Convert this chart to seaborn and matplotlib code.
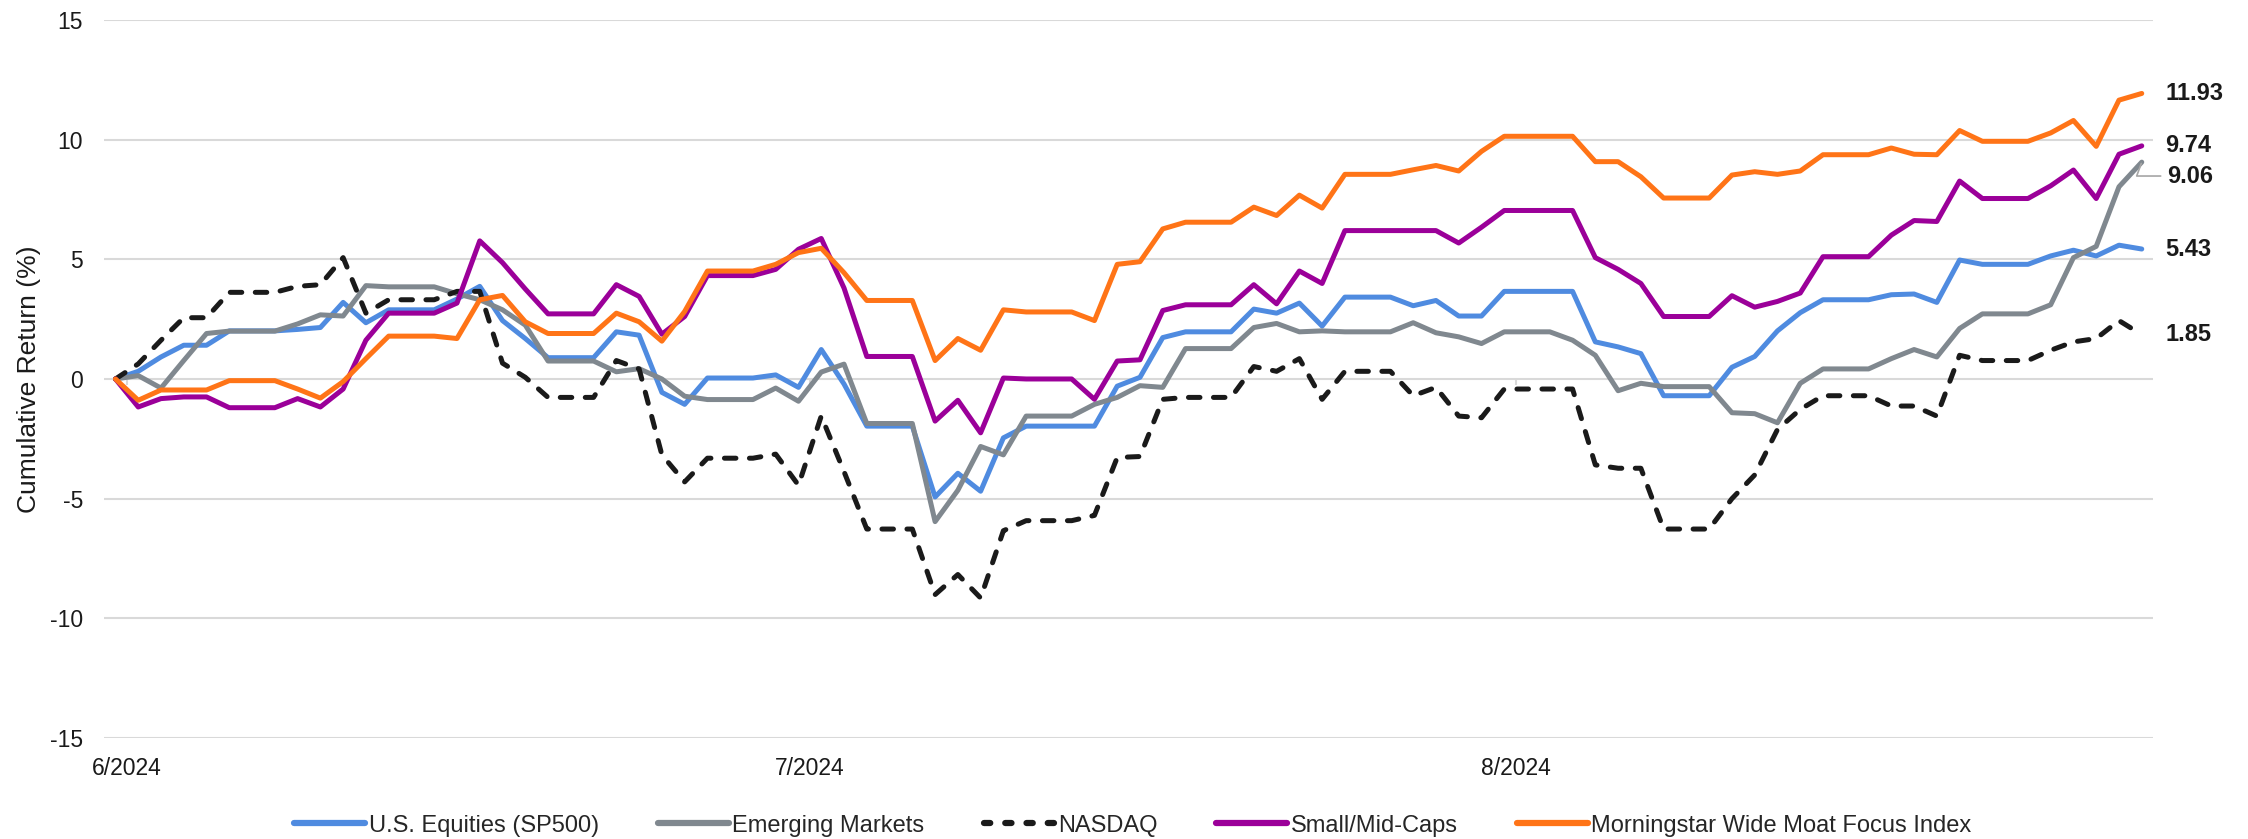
import numpy as np
import pandas as pd
import matplotlib
matplotlib.use("Agg")
import matplotlib.pyplot as plt
from matplotlib.lines import Line2D
import seaborn as sns

# cumulative returns (%), one value per calendar day starting 5/31/2024
sp500 = [0, 0.32, 0.92, 1.41, 1.41, 2.01, 2.01, 2.01, 2.07, 2.15,
         3.2, 2.35, 2.89, 2.89, 2.89, 3.34, 3.87, 2.44, 1.69, 0.89,
         0.89, 0.89, 1.97, 1.83, -0.56, -1.06, 0.04, 0.04, 0.04, 0.17,
         -0.35, 1.23, -0.21, -1.97, -1.97, -1.97, -4.93, -3.94, -4.69, -2.46,
         -1.97, -1.97, -1.97, -1.97, -0.3, 0.07, 1.73, 1.97, 1.97, 1.97,
         2.92, 2.75, 3.17, 2.21, 3.42, 3.42, 3.42, 3.06, 3.28, 2.63,
         2.63, 3.66, 3.66, 3.66, 3.66, 1.55, 1.34, 1.06, -0.7, -0.7,
         -0.7, 0.49, 0.94, 2.01, 2.77, 3.31, 3.31, 3.31, 3.52, 3.55,
         3.2, 4.97, 4.79, 4.79, 4.79, 5.14, 5.38, 5.14, 5.59, 5.43]

emerging = [0, 0.14, -0.38, 0.77, 1.9, 2.0, 2.0, 2.0, 2.3, 2.68,
            2.63, 3.9, 3.85, 3.85, 3.85, 3.56, 3.31, 2.89, 2.25, 0.75,
            0.75, 0.75, 0.3, 0.43, 0.0, -0.72, -0.86, -0.86, -0.86, -0.38,
            -0.93, 0.29, 0.62, -1.86, -1.86, -1.86, -5.96, -4.65, -2.82, -3.17,
            -1.55, -1.55, -1.55, -1.06, -0.77, -0.28, -0.35, 1.27, 1.27, 1.27,
            2.15, 2.32, 1.97, 2.01, 1.97, 1.97, 1.97, 2.35, 1.93, 1.76,
            1.48, 1.97, 1.97, 1.97, 1.62, 0.99, -0.49, -0.18, -0.32, -0.32,
            -0.32, -1.41, -1.45, -1.83, -0.18, 0.42, 0.42, 0.42, 0.85, 1.23,
            0.92, 2.11, 2.72, 2.72, 2.72, 3.1, 5.07, 5.54, 8.03, 9.06]

nasdaq = [0, 0.63, 1.62, 2.56, 2.56, 3.62, 3.62, 3.62, 3.87, 3.94,
          5.07, 2.75, 3.31, 3.31, 3.31, 3.66, 3.66, 0.66, 0.07, -0.77,
          -0.77, -0.77, 0.77, 0.42, -3.17, -4.3, -3.31, -3.31, -3.31, -3.14,
          -4.44, -1.55, -3.87, -6.27, -6.27, -6.27, -9.01, -8.17, -9.15, -6.34,
          -5.92, -5.92, -5.92, -5.7, -3.28, -3.24, -0.85, -0.77, -0.77, -0.77,
          0.52, 0.32, 0.85, -0.85, 0.32, 0.32, 0.32, -0.7, -0.35, -1.55,
          -1.62, -0.42, -0.42, -0.42, -0.42, -3.59, -3.73, -3.73, -6.27, -6.27,
          -6.27, -5.0, -4.01, -2.11, -1.27, -0.7, -0.7, -0.7, -1.13, -1.13,
          -1.55, 0.99, 0.77, 0.77, 0.77, 1.2, 1.55, 1.69, 2.44, 1.85]

small_mid = [0, -1.17, -0.82, -0.75, -0.75, -1.2, -1.2, -1.2, -0.82, -1.17,
             -0.42, 1.62, 2.75, 2.75, 2.75, 3.17, 5.77, 4.86, 3.76, 2.72,
             2.72, 2.72, 3.94, 3.45, 1.87, 2.61, 4.32, 4.32, 4.32, 4.58,
             5.42, 5.87, 3.8, 0.94, 0.94, 0.94, -1.76, -0.89, -2.25, 0.04,
             0.0, 0.0, 0.0, -0.85, 0.75, 0.8, 2.86, 3.1, 3.1, 3.1,
             3.94, 3.14, 4.51, 3.99, 6.2, 6.2, 6.2, 6.2, 6.2, 5.68,
             6.34, 7.04, 7.04, 7.04, 7.04, 5.07, 4.58, 3.99, 2.61, 2.61,
             2.61, 3.48, 3.0, 3.24, 3.59, 5.11, 5.11, 5.11, 6.01, 6.62,
             6.58, 8.27, 7.54, 7.54, 7.54, 8.07, 8.73, 7.54, 9.39, 9.74]

wide_moat = [0, -0.89, -0.46, -0.46, -0.46, -0.07, -0.07, -0.07, -0.42, -0.8,
             -0.11, 0.85, 1.79, 1.79, 1.79, 1.69, 3.31, 3.49, 2.39, 1.9,
             1.9, 1.9, 2.75, 2.39, 1.58, 2.82, 4.51, 4.51, 4.51, 4.79,
             5.28, 5.46, 4.44, 3.28, 3.28, 3.28, 0.77, 1.69, 1.2, 2.89,
             2.8, 2.8, 2.8, 2.44, 4.79, 4.9, 6.27, 6.55, 6.55, 6.55,
             7.18, 6.83, 7.68, 7.14, 8.55, 8.55, 8.55, 8.74, 8.92, 8.69,
             9.51, 10.14, 10.14, 10.14, 10.14, 9.08, 9.08, 8.45, 7.56, 7.56,
             7.56, 8.52, 8.66, 8.55, 8.69, 9.37, 9.37, 9.37, 9.65, 9.39,
             9.37, 10.38, 9.93, 9.93, 9.93, 10.28, 10.8, 9.72, 11.65, 11.93]

series_names = ["U.S. Equities (SP500)", "Emerging Markets", "NASDAQ",
                "Small/Mid-Caps", "Morningstar Wide Moat Focus Index"]
series_values = [sp500, emerging, nasdaq, small_mid, wide_moat]
colors = ["#4F8BE0", "#80888F", "#1A1A1A", "#9B0099", "#FF7417"]
y_ticks = [-15, -10, -5, 0, 5, 10, 15]

dates = pd.date_range("2024-05-31", periods=len(sp500), freq="D")
x = np.arange(len(dates))
nasdaq_dash = (0, (2.3, 2.7))

sns.set_style("white")
plt.rcParams["font.family"] = ["Liberation Sans", "DejaVu Sans"]
plt.rcParams["axes.unicode_minus"] = False

fig = plt.figure(figsize=(22.48, 8.39), dpi=100)
ax = fig.add_axes([0.0463, 0.1204, 0.9115, 0.8558])

for name, vals, col in zip(series_names, series_values, colors):
    if name == "NASDAQ":
        sns.lineplot(x=x, y=vals, ax=ax, color=col, lw=3.6,
                     linestyle=nasdaq_dash, dash_capstyle="round")
    else:
        sns.lineplot(x=x, y=vals, ax=ax, color=col, lw=3.6,
                     solid_capstyle="round")

ax.set_xlim(-0.5, len(x) - 0.5)
ax.set_ylim(-15, 15)
ax.set_yticks(y_ticks)
ax.set_yticklabels([str(t) for t in y_ticks])

# month boundaries sit between the last day of a month and the 1st
month_pos = [i - 0.5 for i, d in enumerate(dates) if d.day == 1]
month_lbl = [f"{d.month}/{d.year}" for d in dates if d.day == 1]
ax.set_xticks(month_pos)
ax.set_xticklabels(month_lbl)
ax.vlines(month_pos, -0.25, 0, color="#D9D9D9", lw=1.5, zorder=0)

ax.tick_params(axis="y", length=0, pad=15, labelsize=16.5, labelcolor="#1a1a1a")
ax.tick_params(axis="x", length=0, pad=14, labelsize=16.5, labelcolor="#1a1a1a")
ax.grid(axis="y", color="#D9D9D9", lw=1.5)
ax.grid(axis="x", visible=False)
for s in ax.spines.values():
    s.set_visible(False)
ax.set_xlabel("")
ax.set_ylabel("Cumulative Return (%)", fontsize=19, color="#1a1a1a")
ax.yaxis.set_label_coords(-0.031, 0.5)

# end-of-period value labels
for name, vals in zip(series_names, series_values):
    last = vals[-1]
    if name == "Emerging Markets":
        ax.annotate(f"{last:.2f}", xy=(x[-1], last), xytext=(18, -10),
                    textcoords="offset points", va="center", ha="left",
                    fontsize=17, fontweight="bold", color="#1a1a1a",
                    arrowprops=dict(arrowstyle="-", color="#A6A6A6", lw=1.2,
                                    shrinkA=2, shrinkB=1,
                                    connectionstyle="angle,angleA=0,angleB=70,rad=0"))
    else:
        ax.annotate(f"{last:.2f}", xy=(x[-1], last), xytext=(17, 0),
                    textcoords="offset points", va="center", ha="left",
                    fontsize=17, fontweight="bold", color="#1a1a1a")

# legend: thicker handles, NASDAQ shown as dots
handles = []
for name, col in zip(series_names, colors):
    if name == "NASDAQ":
        handles.append(Line2D([], [], color=col, lw=4.5,
                              linestyle=(0, (1.0, 2.4)), dash_capstyle="round"))
    else:
        handles.append(Line2D([], [], color=col, lw=4.5, solid_capstyle="round"))
fig.legend(handles, series_names, loc="center", bbox_to_anchor=(0.504, 0.016),
           ncol=5, frameon=False, fontsize=17, handlelength=3.0,
           handletextpad=0.15, columnspacing=2.5)

fig.savefig("out.png", dpi=100)
